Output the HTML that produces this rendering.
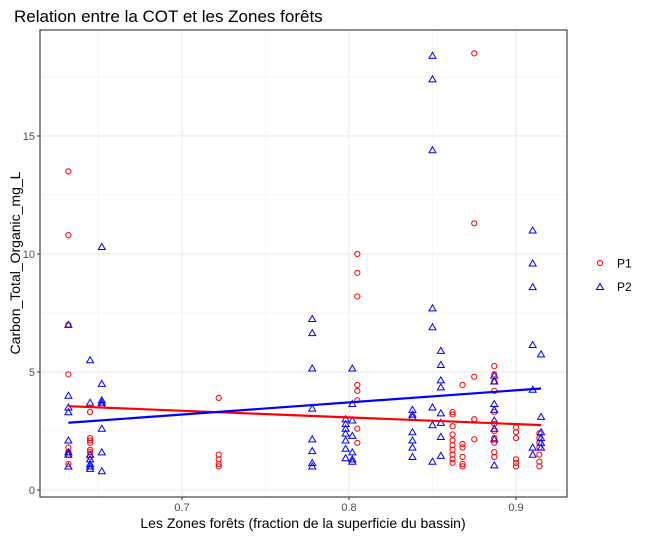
<!DOCTYPE html>
<html><head><meta charset="utf-8"><style>
body{margin:0;background:#fff;font-family:"Liberation Sans",sans-serif}
svg{display:block}
</style></head><body>
<svg id="c" width="648" height="537" xmlns="http://www.w3.org/2000/svg">
<text x="14" y="22" font-size="17" fill="#000">Relation entre la COT et les Zones forêts</text>
<text transform="translate(20,263) rotate(-90)" text-anchor="middle" font-size="14" fill="#000">Carbon_Total_Organic_mg_L</text>
<text x="303" y="528" text-anchor="middle" font-size="14" fill="#000">Les Zones forêts (fraction de la superficie du bassin)</text>
<g>
<circle cx="600" cy="263" r="2.6" fill="none" stroke="#f00" stroke-width="1"/>
<text x="617" y="267.5" font-size="12">P1</text>
<path d="M596.5,289.5 L600,283.5 L603.5,289.5 Z" fill="none" stroke="#00f" stroke-width="1"/>
<text x="617" y="291" font-size="12">P2</text>
</g>
</svg>
<script>
const xTicks=[0.7,0.8,0.9];
const yTicks=[0,5,10,15];
const p1x=[0.632,0.632,0.632,0.632,0.632,0.632,0.632,0.632,
0.645,0.645,0.645,0.645,0.645,0.645,0.645,
0.722,0.722,0.722,0.722,0.722,
0.805,0.805,0.805,0.805,0.805,0.805,0.805,0.805,
0.862,0.862,0.862,0.862,0.862,0.862,0.862,0.862,0.862,0.862,
0.868,0.868,0.868,0.868,0.868,0.868,
0.875,0.875,0.875,0.875,0.875,
0.887,0.887,0.887,0.887,0.887,0.887,0.887,0.887,0.887,0.887,0.887,
0.900,0.900,0.900,0.900,0.900,0.900,
0.914,0.914,0.914,0.914,0.914,0.914,0.914];
const p1y=[13.5,10.8,7.0,4.9,1.8,1.5,1.1,1.6,
3.3,2.1,2.0,1.7,1.6,1.4,2.2,
3.9,1.5,1.3,1.1,1.0,
10.0,9.2,8.2,4.45,4.2,3.8,2.6,2.0,
3.3,3.2,2.7,2.35,2.1,1.9,1.7,1.5,1.3,1.15,
4.45,1.95,1.8,1.4,1.1,1.0,
18.5,11.3,4.8,3.0,2.15,
5.25,4.9,4.6,4.2,3.3,2.8,2.5,2.2,2.0,1.6,1.4,
2.65,2.45,2.2,1.3,1.15,1.0,
2.4,2.2,2.0,1.8,1.5,1.2,1.0];
const p2x=[0.632,0.632,0.632,0.632,0.632,0.632,0.632,0.632,
0.645,0.645,0.645,0.645,0.645,0.645,0.645,
0.652,0.652,0.652,0.652,0.652,0.652,0.652,0.652,
0.778,0.778,0.778,0.778,0.778,0.778,0.778,0.778,
0.798,0.798,0.798,0.798,0.798,0.798,0.798,
0.802,0.802,0.802,0.802,0.802,0.802,0.802,
0.838,0.838,0.838,0.838,0.838,0.838,0.838,
0.850,0.850,0.850,0.850,0.850,0.850,0.850,0.850,
0.855,0.855,0.855,0.855,0.855,0.855,0.855,0.855,
0.887,0.887,0.887,0.887,0.887,0.887,0.887,0.887,
0.910,0.910,0.910,0.910,0.910,0.910,0.910,
0.915,0.915,0.915,0.915,0.915,0.915];
const p2y=[7.0,4.0,3.5,3.3,2.1,1.6,1.5,1.0,
5.5,3.7,1.5,1.3,1.1,1.0,0.9,
10.3,4.5,3.8,3.7,3.6,2.6,1.6,0.8,
7.25,6.65,5.15,3.45,2.15,1.65,1.15,1.0,
3.0,2.8,2.6,2.4,2.1,1.75,1.35,
5.15,3.65,2.95,2.3,1.6,1.3,1.2,
3.4,3.2,3.1,2.45,2.1,1.8,1.4,
18.4,17.4,14.4,7.7,6.9,3.5,2.75,1.2,
5.9,5.3,4.65,4.35,3.25,2.85,2.25,1.45,
4.85,4.6,3.65,3.4,2.95,2.6,2.15,1.05,
11.0,9.6,8.6,6.15,4.25,1.8,1.5,
5.75,3.1,2.45,2.2,2.0,1.8];
const fitX=[0.632,0.915];
const fitP1=[3.55,2.75];
const fitP2=[2.85,4.3];

const L=40,R=567,T=30,B=497;
const xMin=0.6150,xMax=0.93054,yMin=-0.2966,yMax=19.49;
const sx=v=>L+(v-xMin)/(xMax-xMin)*(R-L);
const sy=v=>B-(v-yMin)/(yMax-yMin)*(B-T);
const svg=document.getElementById('c');
const NS='http://www.w3.org/2000/svg';
function mk(tag,attrs,parent){const e=document.createElementNS(NS,tag);for(const k in attrs)e.setAttribute(k,attrs[k]);(parent||svg).appendChild(e);return e;}
const g=mk('g',{});


// minor grid
for(let i=0;i<=xTicks.length;i++){const v=xTicks[0]-0.05+0.1*i;if(v>xMin&&v<xMax){const l=mk('line',{x1:sx(v),x2:sx(v),y1:T,y2:B,stroke:'#f2f2f2','stroke-width':0.6},g);}}
for(let i=0;i<yTicks.length;i++){const v=yTicks[i]+2.5;if(v<yMax){const l=mk('line',{x1:L,x2:R,y1:sy(v),y2:sy(v),stroke:'#f2f2f2','stroke-width':0.6},g);}}
xTicks.forEach(v=>{
const l=mk('line',{x1:sx(v),x2:sx(v),y1:T,y2:B,stroke:'#ebebeb','stroke-width':1.1},g);


const tk=mk('line',{x1:sx(v),x2:sx(v),y1:B,y2:B+3,stroke:'#333'});


const t=mk('text',{x:sx(v),y:B+14,'text-anchor':'middle','font-size':11,fill:'#4d4d4d'});
t.textContent=v.toFixed(1);


});
yTicks.forEach(v=>{
const l=mk('line',{x1:L,x2:R,y1:sy(v),y2:sy(v),stroke:'#ebebeb','stroke-width':1.1},g);


const tk=mk('line',{x1:L-3,x2:L,y1:sy(v),y2:sy(v),stroke:'#333'});


const t=mk('text',{x:L-5,y:sy(v)+4,'text-anchor':'end','font-size':11,fill:'#4d4d4d'});
t.textContent=String(v);


});
p1x.forEach((xv,i)=>{
const c=mk('circle',{cx:sx(xv),cy:sy(p1y[i]),r:2.6,fill:'none',stroke:'#f00','stroke-width':1},g);


});
p2x.forEach((xv,i)=>{
const x=sx(xv),y=sy(p2y[i]);
const p=mk('path',{d:`M${x-3.5},${y+2.6} L${x},${y-3.4} L${x+3.5},${y+2.6} Z`,fill:'none',stroke:'#00f','stroke-width':1},g);


});
const f1=mk('line',{x1:sx(fitX[0]),y1:sy(fitP1[0]),x2:sx(fitX[1]),y2:sy(fitP1[1]),stroke:'#f00','stroke-width':2.2},g);


const f2=mk('line',{x1:sx(fitX[0]),y1:sy(fitP2[0]),x2:sx(fitX[1]),y2:sy(fitP2[1]),stroke:'#00f','stroke-width':2.2},g);


const bd=mk('rect',{x:L,y:T,width:R-L,height:B-T,fill:'none',stroke:'#333','stroke-width':1.1});


</script>
</body></html>
